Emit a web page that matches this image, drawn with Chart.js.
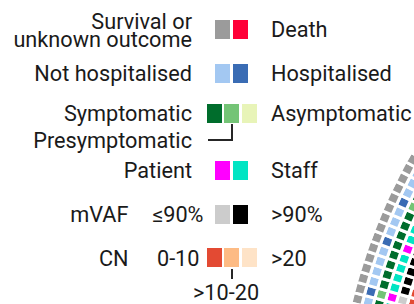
<!DOCTYPE html>
<html>
<head>
<meta charset="utf-8">
<script src="https://cdn.jsdelivr.net/npm/chart.js@4.4.0/dist/chart.umd.min.js"></script>
<style>
  html, body { margin: 0; padding: 0; width: 414px; height: 304px; overflow: hidden; background: #fff; }
  #ring { position: absolute; left: 326px; top: -156px; width: 1200px; height: 1200px; }
  .lbl { position: absolute; font-family: Roboto, sans-serif; font-size: 21.7px; color: #1a1a1a; white-space: nowrap; }
  .sw { position: absolute; width: 15px; height: 19px; }
  .ln { position: absolute; background: #262626; }
</style>
</head>
<body>
<div id="legend"></div>
<div id="ring"><canvas id="chart" width="1200" height="1200"></canvas></div>
<script>
// categories + colours for each ring (outer -> inner)
const outcomeCats = ['Survival or unknown outcome', 'Death'];
const outcomeColors = ['#9b9b9b', '#ff0038'];
const hospCats = ['Not hospitalised', 'Hospitalised'];
const hospColors = ['#a3c8f2', '#3a6cb4'];
const symptomCats = ['Symptomatic', 'Presymptomatic', 'Asymptomatic'];
const symptomColors = ['#006d2c', '#74c476', '#e8f4b8'];
const roleCats = ['Patient', 'Staff'];
const roleColors = ['#ff00ff', '#00e5c3'];
const mvafCats = ['≤90%', '>90%'];
const mvafColors = ['#cccccc', '#000000'];
const cnCats = ['0-10', '>10-20', '>20'];
const cnColors = ['#e34a33', '#fdbb84', '#fee3c7'];

// samples visible in the corner, bottom -> top, category index per ring
const outcome = [0, 0, 0, 0, 0, 0, 0, 0, 0, 0, 0, 0, 0, 0, 0];
const hosp    = [0, 1, 0, 0, 0, 0, 1, 0, 0, 0, 1, 0, 0, 0, 0];
const symptom = [0, 1, 0, 0, 0, 0, 0, 0, 0, 0, 1, 0, 0, 0, 0];
const role    = [1, 0, 1, 1, 1, 1, 0, 1, 1, 1, 1, 1, 1, 1, 1];
const mvaf    = [1, 0, 1, 1, 1, 1, 1, 1, 1, 1, 1, 1, 1, 1, 1];
const cn      = [0, 0, 0, 1, 1, 1, 1, 1, 1, 1, 1, 1, 1, 1, 1];
const totalSlots = 343; // sample positions on the whole circle

// ---- legend (html) ----
const FS = 21.7;
const legend = document.getElementById('legend');

function baseOffset(lh) {
  // Roboto hhea ascent/descent
  return (lh - 1.1718 * FS) / 2 + 0.9277 * FS;
}

function addText(txt, x, baseline, align, lh) {
  lh = lh || FS;
  const d = document.createElement('div');
  d.className = 'lbl';
  d.style.lineHeight = lh + 'px';
  d.style.top = (baseline - baseOffset(lh)) + 'px';
  if (align === 'right') {
    d.style.right = (414 - x) + 'px';
    d.style.textAlign = 'right';
  } else {
    d.style.left = x + 'px';
  }
  d.innerHTML = txt;
  legend.appendChild(d);
}

function addSwatches(colors, top) {
  const w = 15, gap = 2.5;
  const total = colors.length * w + (colors.length - 1) * gap;
  let x = 231.5 - total / 2;
  colors.forEach(c => {
    const s = document.createElement('div');
    s.className = 'sw';
    s.style.left = x + 'px';
    s.style.top = top + 'px';
    s.style.background = c;
    legend.appendChild(s);
    x += w + gap;
  });
}

function addLine(x, y, w, h) {
  const l = document.createElement('div');
  l.className = 'ln';
  Object.assign(l.style, { left: x + 'px', top: y + 'px', width: w + 'px', height: h + 'px' });
  legend.appendChild(l);
}

addText('Survival or<br>unknown outcome', 192, 29.3, 'right', 18);
addSwatches(outcomeColors, 20);
addText(outcomeCats[1], 271, 37.3);

addText(hospCats[0], 192, 81.7, 'right');
addSwatches(hospColors, 64);
addText(hospCats[1], 271, 81.7);

addText(symptomCats[0], 192, 121, 'right');
addSwatches(symptomColors, 104);
addText(symptomCats[2], 271, 120.8);
addText(symptomCats[1], 192, 148, 'right');
addLine(230.7, 124, 2, 17);
addLine(208, 139, 24.7, 2);

addText(roleCats[0], 192, 178.7, 'right');
addSwatches(roleColors, 161);
addText(roleCats[1], 271, 178.7);

addText('mVAF', 128.5, 222.5, 'right');
addText(mvafCats[0], 203.5, 222.5, 'right');
addSwatches(mvafColors, 205);
addText(mvafCats[1], 271, 221.8);

addText('CN', 128.5, 266.5, 'right');
addText(cnCats[0], 199.5, 266.5, 'right');
addSwatches(cnColors, 248);
addText(cnCats[2], 271, 266);
addLine(230.7, 269, 2, 10);
addText(cnCats[1], 193, 300);

// ---- circular sample heatmap (doughnut, one dataset per ring) ----
function ringDataset(label, idx, colors) {
  return {
    label: label,
    data: idx.map(() => 1).concat([totalSlots - idx.length]),
    backgroundColor: idx.map(i => colors[i]).concat(['rgba(0,0,0,0)']),
    borderColor: '#ffffff',
    borderWidth: 3,
    borderJoinStyle: 'miter'
  };
}

new Chart(document.getElementById('chart'), {
  type: 'doughnut',
  data: {
    labels: outcome.map((_, i) => 'S' + (i + 1)).concat(['']),
    datasets: [
      ringDataset('Outcome', outcome, outcomeColors),
      ringDataset('Hospitalisation', hosp, hospColors),
      ringDataset('Symptoms', symptom, symptomColors),
      ringDataset('Patient/Staff', role, roleColors),
      ringDataset('mVAF', mvaf, mvafColors),
      ringDataset('CN', cn, cnColors)
    ]
  },
  options: {
    responsive: false,
    animation: false,
    radius: 592,
    cutout: 532,
    rotation: 283.775,
    circumference: 360,
    layout: { padding: 0 },
    plugins: {
      legend: { display: false },
      tooltip: { enabled: false }
    }
  }
});
</script>
</body>
</html>
